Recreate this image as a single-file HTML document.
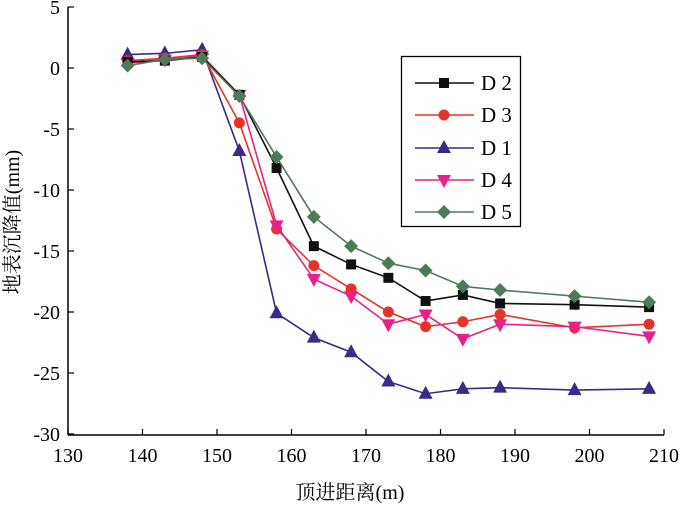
<!DOCTYPE html>
<html><head><meta charset="utf-8"><style>
html,body{margin:0;padding:0;background:#fff;}
svg{display:block;font-family:"Liberation Serif","Noto Serif CJK SC",serif;}
</style></head><body>
<svg id="s" width="700" height="505" viewBox="0 0 700 505" xmlns="http://www.w3.org/2000/svg">
<g stroke="#000" stroke-width="1.5" fill="none">
<line x1="68" y1="7" x2="68" y2="435"/>
<line x1="68" y1="435" x2="664" y2="435"/>
</g>
<g id="ticks" stroke="#000" stroke-width="1.2"></g>
<g id="lbl" font-size="20" fill="#000"></g>
<text x="350" y="499" font-size="20" text-anchor="middle">顶进距离(m)</text>
<text transform="translate(19,222) rotate(-90)" font-size="20" text-anchor="middle">地表沉降值(mm)</text>
<g id="series"></g>
<rect x="401.5" y="56.5" width="119" height="170" fill="#fff" stroke="#000" stroke-width="1.3"/>
<g id="leg" font-size="21"></g>
</svg>
<script>
var NS="http://www.w3.org/2000/svg";
function X(v){return 68+(v-130)*7.45;}
function Y(v){return 68-v*12.2;}
function el(t,a,p){var e=document.createElementNS(NS,t);for(var k in a)e.setAttribute(k,a[k]);p.appendChild(e);return e;}
var tk=document.getElementById('ticks'),lb=document.getElementById('lbl');
for(var v=5;v>=-30;v-=5){var y=Y(v);el('line',{x1:68,y1:y,x2:74,y2:y},tk);var t=el('text',{x:60,y:y+7,'text-anchor':'end'},lb);t.textContent=v;}
for(var v=130;v<=210;v+=10){var x=X(v);el('line',{x1:x,y1:435,x2:x,y2:429},tk);var t=el('text',{x:x,y:462,'text-anchor':'middle'},lb);t.textContent=v;}
var xs=[138,143,148,153,158,163,168,173,178,183,188,198,208];
var S=[
{n:'D 2',c:'#111',m:'sq',d:[0.5,0.6,0.9,-2.2,-8.2,-14.6,-16.1,-17.2,-19.1,-18.6,-19.3,-19.4,-19.6]},
{n:'D 3',c:'#e8312a',m:'ci',d:[0.6,0.8,1.1,-4.5,-13.2,-16.2,-18.1,-20.0,-21.2,-20.8,-20.2,-21.3,-21.0]},
{n:'D 1',c:'#3b2a86',m:'tu',d:[1.1,1.2,1.5,-6.8,-20.1,-22.1,-23.3,-25.7,-26.7,-26.3,-26.2,-26.4,-26.3]},
{n:'D 4',c:'#e8218a',m:'td',d:[0.4,0.7,1.0,-2.2,-12.9,-17.3,-18.7,-21.0,-20.2,-22.2,-21.0,-21.2,-22.0]},
{n:'D 5',c:'#4f7a58',m:'di',d:[0.2,0.7,0.8,-2.3,-7.3,-12.2,-14.6,-16.0,-16.6,-17.9,-18.2,-18.7,-19.2]}];
function mk(m,x,y,c,p){
 if(m=='sq')el('rect',{x:x-5,y:y-5,width:10,height:10,fill:c},p);
 else if(m=='ci')el('circle',{cx:x,cy:y,r:5.5,fill:c},p);
 else if(m=='tu')el('polygon',{points:(x-7)+','+(y+5)+' '+(x+7)+','+(y+5)+' '+x+','+(y-8),fill:c},p);
 else if(m=='td')el('polygon',{points:(x-7)+','+(y-5)+' '+(x+7)+','+(y-5)+' '+x+','+(y+8),fill:c},p);
 else el('polygon',{points:x+','+(y-7)+' '+(x+7)+','+y+' '+x+','+(y+7)+' '+(x-7)+','+y,fill:c},p);
}
var g=document.getElementById('series'),lg=document.getElementById('leg');
var order=[2,1,3,0,4];
order.forEach(function(i){var s=S[i];var pts=s.d.map(function(v,j){return X(xs[j])+','+Y(v);}).join(' ');
 el('polyline',{points:pts,fill:'none',stroke:s.c,'stroke-width':1.6},g);
 s.d.forEach(function(v,j){mk(s.m,X(xs[j]),Y(v),s.c,g);});});
var ly=[83,115,148,180,212];
S.forEach(function(s,i){var y=ly[i];el('line',{x1:415,y1:y,x2:474,y2:y,stroke:s.c,'stroke-width':1.6},lg);mk(s.m,444,y,s.c,lg);
 var t=el('text',{x:481,y:y+7},lg);t.textContent=s.n;});
</script>
</body></html>
